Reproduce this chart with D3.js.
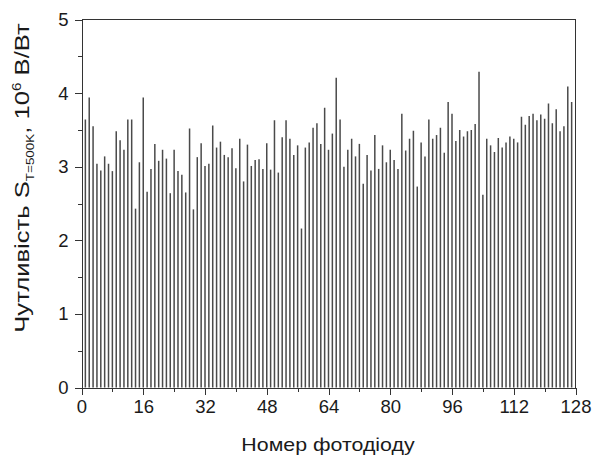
<!doctype html>
<html>
<head>
<meta charset="utf-8">
<style>
    body { margin: 0; background: #fff; }
    svg text { font-family: "Liberation Sans", Arial, sans-serif; fill: #1a1a1a; }
    .axis path, .axis line { stroke: #333; stroke-width: 1; shape-rendering: crispEdges; }
    .bar { stroke: #4a4a4a; stroke-width: 1.5; }
</style>
<script src="https://d3js.org/d3.v7.min.js"></script>
</head>
<body>
<svg width="592" height="457"></svg>
<script>
    // номер фотодіоду 1..127, чутливість (10^6 В/Вт)
    var diodes = d3.range(1, 128);
    var sens = [
        3.64, 3.94, 3.55, 3.04, 2.95, 3.14, 3.04, 2.94, 3.48, 3.36,
        3.23, 3.64, 3.64, 2.43, 3.06, 3.94, 2.66, 2.97, 3.31, 3.08,
        3.23, 3.11, 2.64, 3.23, 2.94, 2.89, 2.65, 3.52, 2.42, 3.13,
        3.32, 3.01, 3.04, 3.56, 3.26, 3.34, 3.16, 3.13, 3.25, 2.98,
        3.38, 2.80, 3.30, 3.01, 3.09, 3.10, 2.97, 3.32, 2.96, 3.63,
        2.92, 3.40, 3.63, 3.38, 3.16, 3.29, 2.16, 3.26, 3.33, 3.53,
        3.59, 3.31, 3.80, 3.23, 3.45, 4.21, 3.64, 3.00, 3.23, 3.38,
        3.14, 3.31, 2.77, 3.16, 2.95, 3.43, 2.97, 3.29, 3.06, 3.23,
        3.09, 2.97, 3.72, 3.22, 3.38, 3.49, 2.73, 3.33, 3.14, 3.64,
        3.38, 3.43, 3.53, 3.19, 3.88, 3.72, 3.35, 3.50, 3.41, 3.48,
        3.50, 3.58, 4.29, 2.62, 3.38, 3.29, 3.20, 3.39, 3.26, 3.33,
        3.41, 3.38, 3.33, 3.68, 3.57, 3.69, 3.72, 3.63, 3.71, 3.65,
        3.86, 3.59, 3.78, 3.48, 3.55, 4.09, 3.88
    ];
    var xTicks = [0, 16, 32, 48, 64, 80, 96, 112, 128];
    var xMinor = [8, 24, 40, 56, 72, 88, 104, 120];
    var yTicks = [0, 1, 2, 3, 4, 5];
    var yMinor = [0.5, 1.5, 2.5, 3.5, 4.5];

    var svg = d3.select("svg");
    var pLeft = 81.5, pRight = 575.5, pTop = 19.5, pBottom = 387.5;

    var x = d3.scaleLinear().domain([0, 128]).range([pLeft, pRight]);
    var y = d3.scaleLinear().domain([0, 5]).range([pBottom, pTop]);

    // bars as thin vertical lines
    svg.append("g")
       .selectAll("line")
       .data(diodes)
       .enter().append("line")
       .attr("class", "bar")
       .attr("x1", function(d) { return x(d); })
       .attr("x2", function(d) { return x(d); })
       .attr("y1", y(0))
       .attr("y2", function(d, i) { return y(sens[i]); });

    // frame (top and right)
    svg.append("path")
       .attr("d", "M" + pLeft + "," + pTop + "H" + pRight + "V" + pBottom)
       .attr("fill", "none")
       .attr("stroke", "#333")
       .attr("shape-rendering", "crispEdges");

    // x axis
    var gx = svg.append("g")
       .attr("class", "axis")
       .attr("transform", "translate(0," + pBottom + ")");
    gx.call(d3.axisBottom(x).tickValues(xTicks).tickSize(7).tickPadding(5).tickFormat(d3.format("d")));
    gx.append("g")
      .call(d3.axisBottom(x).tickValues(xMinor).tickSize(4).tickFormat(""))
      .select(".domain").remove();
    gx.selectAll("text").attr("font-size", "18.5px").attr("fill", "#1a1a1a");

    // y axis
    var gy = svg.append("g")
       .attr("class", "axis")
       .attr("transform", "translate(" + pLeft + ",0)");
    gy.call(d3.axisLeft(y).tickValues(yTicks).tickSize(7).tickPadding(6).tickFormat(d3.format("d")));
    gy.append("g")
      .call(d3.axisLeft(y).tickValues(yMinor).tickSize(4).tickFormat(""))
      .select(".domain").remove();
    gy.selectAll("text").attr("font-size", "18.5px").attr("fill", "#1a1a1a");

    // axis titles
    svg.append("text")
       .attr("transform", "translate(328,451) scale(1.22,1)")
       .attr("text-anchor", "middle")
       .attr("font-size", "17.5px")
       .text("Номер фотодіоду");

    var yt = svg.append("text")
       .attr("transform", "translate(29,178) rotate(-90) scale(1.28,1)")
       .attr("text-anchor", "middle")
       .attr("font-size", "20px");
    yt.append("tspan").text("Чутливість S");
    yt.append("tspan").attr("font-size", "10.5px").attr("dy", 5).text("T=500K");
    yt.append("tspan").attr("dy", -5).text(", 10");
    yt.append("tspan").attr("font-size", "12px").attr("dy", -8).text("6");
    yt.append("tspan").attr("dy", 8).text(" В/Вт");
</script>
</body>
</html>
